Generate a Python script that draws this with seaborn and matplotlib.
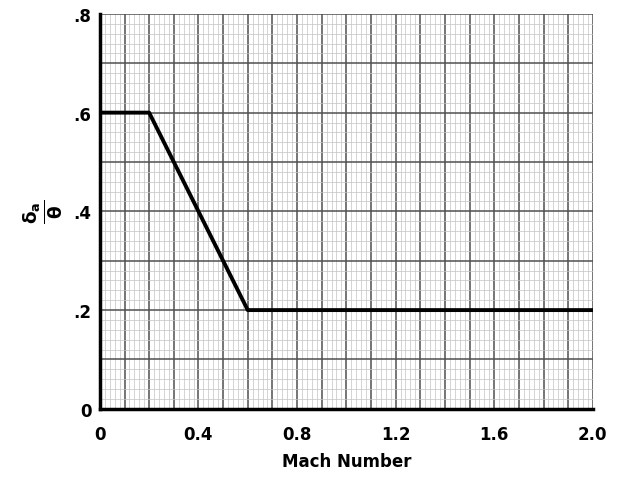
import numpy as np
import pandas as pd
import matplotlib.pyplot as plt
from matplotlib.ticker import MultipleLocator, FixedLocator
import seaborn as sns

# Data
mach = [0.0, 0.2, 0.6, 2.0]
ratio = [0.6, 0.6, 0.2, 0.2]
xtick_vals = [0, 0.4, 0.8, 1.2, 1.6, 2.0]
xtick_labels = ['0', '0.4', '0.8', '1.2', '1.6', '2.0']
ytick_vals = [0, 0.2, 0.4, 0.6, 0.8]
ytick_labels = ['0', '.2', '.4', '.6', '.8']

df = pd.DataFrame({'Mach': mach, 'ratio': ratio})

sns.set_style('white')
plt.rcParams['font.family'] = ['DejaVu Sans']

fig = plt.figure(figsize=(6.28, 4.81), dpi=100)
ax = fig.add_axes([0.159, 0.148, 0.785, 0.821])

# Graph-paper grid
ax.xaxis.set_minor_locator(MultipleLocator(0.02))
ax.yaxis.set_minor_locator(MultipleLocator(0.02))
ax.grid(which='minor', color='#c4c4c4', linewidth=0.5)
ax.grid(which='major', color='#505050', linewidth=1.1)
ax.set_axisbelow(True)

sns.lineplot(data=df, x='Mach', y='ratio', color='black', linewidth=2.8, ax=ax)

ax.set_xlim(0, 2.0)
ax.set_ylim(0, 0.8)

# major grid every 0.1, labels only at selected ticks
xmaj = np.arange(0, 2.01, 0.1)
ymaj = np.arange(0, 0.81, 0.1)
ax.xaxis.set_major_locator(FixedLocator(xmaj))
ax.yaxis.set_major_locator(FixedLocator(ymaj))
ax.set_xticklabels([xtick_labels[xtick_vals.index(round(v, 1))] if round(v, 1) in xtick_vals else ''
                    for v in xmaj], fontsize=12, fontweight='bold', color='black')
ax.set_yticklabels([ytick_labels[ytick_vals.index(round(v, 1))] if round(v, 1) in ytick_vals else ''
                    for v in ymaj], fontsize=12, fontweight='bold', color='black')
ax.tick_params(which='both', length=0)
ax.tick_params(axis='x', pad=12)
ax.tick_params(axis='y', pad=6)

for s in ['top', 'right']:
    ax.spines[s].set_visible(False)
for s in ['left', 'bottom']:
    ax.spines[s].set_color('black')
    ax.spines[s].set_linewidth(2.5)

ax.set_xlabel('Mach Number', fontsize=12, fontweight='bold', color='black', labelpad=6)
ax.set_ylabel(r'$\mathbf{\frac{\delta_a}{\theta}}$', fontsize=19, rotation=90, color='black')
ax.yaxis.set_label_coords(-0.07, 0.5)

plt.savefig('out.png', dpi=100)
plt.close()
